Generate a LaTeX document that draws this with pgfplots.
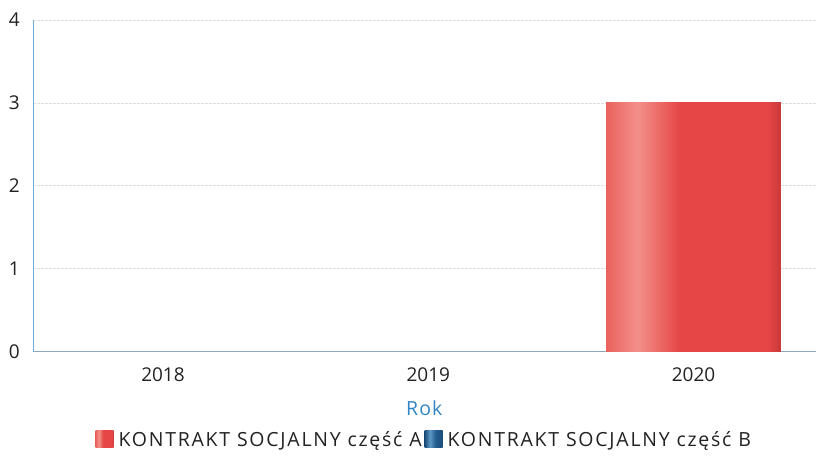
\documentclass[border=0pt]{standalone}
\usepackage{pgfplots}
\pgfplotsset{compat=1.18}
\usepackage{fontspec}
\setmainfont{Open Sans}

\definecolor{yaxis}{HTML}{6FAEDB}
\definecolor{xaxis}{HTML}{8FA8C2}
\definecolor{labelblue}{HTML}{2F86C6}
\definecolor{ticktext}{HTML}{222222}
\definecolor{redA}{HTML}{E64646}
\definecolor{redL}{HTML}{EA625E}
\definecolor{redHi}{HTML}{F39089}
\definecolor{redDk}{HTML}{C93838}
\definecolor{blueA}{HTML}{235F92}
\definecolor{blueHi}{HTML}{5E97C6}
\definecolor{blueDk}{HTML}{1B4C78}

% left lighter streak, red body, darker right edge (25bp..75bp = bar)
\pgfdeclarehorizontalshading{redbar}{100bp}{color(0bp)=(redL); color(25bp)=(redL);
  color(34bp)=(redHi); color(46bp)=(redA); color(71bp)=(redA); color(75bp)=(redDk); color(100bp)=(redDk)}
\pgfdeclarehorizontalshading{bluebar}{100bp}{color(0bp)=(blueDk); color(25bp)=(blueDk);
  color(40bp)=(blueHi); color(55bp)=(blueA); color(75bp)=(blueDk); color(100bp)=(blueDk)}

\begin{document}
\begin{tikzpicture}
\begin{axis}[
    scale only axis, width=783bp, height=332bp,
    xmin=2017.51, xmax=2020.46,
    ymin=0, ymax=4,
    xtick={2018,2019,2020},
    xticklabels={2018,2019,2020},
    ytick={0,1,2,3,4},
    major tick length=0pt,
    axis x line*=bottom, axis y line*=left,
    x axis line style={draw=xaxis, line width=0.9bp, -},
    y axis line style={draw=yaxis, line width=0.9bp, -},
    ymajorgrids,
    grid style={draw=black!13, line width=0.8bp, dash pattern=on 3bp off 1bp},
    /pgf/number format/assume math mode=true,
    ticklabel style={font=\fontsize{19bp}{22bp}\selectfont, text=ticktext},
    yticklabel style={anchor=east, inner sep=0pt, xshift=-13bp},
    xticklabel style={anchor=center, inner sep=0pt, yshift=-23bp},
    xlabel={Rok},
    xlabel style={at={(axis description cs:0.5,0)}, anchor=center, yshift=-56bp,
        font=\fontsize{19.5bp}{22bp}\selectfont\addfontfeature{LetterSpace=6}, text=labelblue},
    legend columns=2,
    legend style={at={(0.5,0)}, anchor=center, yshift=-88bp, draw=none, fill=none,
        font=\fontsize{19.5bp}{22bp}\selectfont\addfontfeature{LetterSpace=9}, text=ticktext,
        /tikz/every even column/.append style={column sep=1bp}},
    legend cell align=left,
    legend image code/.code={\path[#1] (0bp,-8bp) rectangle (18bp,9bp);},
    bar width=175bp,
    clip=false,
]
\addplot[ybar, draw=none, shade, shading=redbar] coordinates {(2020,3)};
\addlegendentry{\hspace{3bp}KONTRAKT SOCJALNY część A}
\addlegendimage{ybar, draw=none, shade, shading=bluebar}
\addlegendentry{\hspace{3bp}KONTRAKT SOCJALNY część B}
\end{axis}
\path[use as bounding box] (-33bp,-107bp) rectangle (783bp,352bp);
\end{tikzpicture}
\end{document}
